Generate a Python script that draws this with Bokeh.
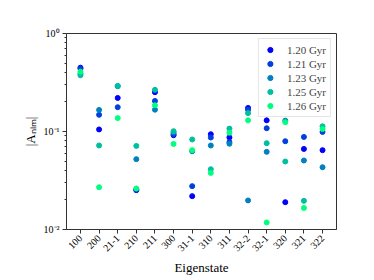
import math
from bokeh.plotting import figure
from bokeh.models import Range1d, FixedTicker, Legend, LegendItem, ColumnDataSource
from bokeh.embed import file_html
from bokeh.resources import INLINE

categories = ["100", "200", "21-1", "210", "211", "300", "31-1", "310", "311",
              "32-2", "32-1", "320", "321", "322"]
series_labels = ["1.20 Gyr", "1.21 Gyr", "1.23 Gyr", "1.25 Gyr", "1.26 Gyr"]
series_colors = ["#0000ff", "#0040df", "#0080bf", "#00bf9f", "#00ff80"]

a_120 = [0.448, 0.105, 0.220, 0.0252, 0.252, 0.0917, 0.0219, 0.0938, 0.087, 0.174, 0.130, 0.019, 0.0664, 0.0645]
a_121 = [0.437, 0.148, 0.177, 0.0255, 0.205, 0.094, 0.0277, 0.0868, 0.078, 0.167, 0.108, 0.0796, 0.088, 0.099]
a_123 = [0.389, 0.166, 0.290, 0.0522, 0.167, 0.098, 0.063, 0.072, 0.075, 0.0198, 0.062, 0.129, 0.0506, 0.0432]
a_125 = [0.375, 0.072, 0.292, 0.0713, 0.266, 0.1007, 0.0829, 0.0412, 0.107, 0.154, 0.076, 0.0494, 0.0196, 0.113]
a_126 = [0.408, 0.027, 0.137, 0.0262, 0.185, 0.0747, 0.0645, 0.0378, 0.097, 0.130, 0.0118, 0.1245, 0.0166, 0.106]
series_values = [a_120, a_121, a_123, a_125, a_126]

y_major = [0.01, 0.1, 1.0]
y_major_labels = {0.01: "10\u207b\u00b2", 0.1: "10\u207b\u00b9", 1.0: "10\u2070"}

FONT = "Liberation Serif"

p = figure(width=374, height=280, output_backend="svg", toolbar_location=None,
           y_axis_type="log",
           x_range=Range1d(-0.75, len(categories) - 0.25),
           y_range=Range1d(0.01, 1.0),
           min_border_left=66, min_border_right=38, min_border_top=33, min_border_bottom=51)

p.outline_line_color = "#333333"
p.outline_line_width = 1
p.xgrid.visible = False
p.ygrid.visible = False

xs = list(range(len(categories)))
items = []
for lab, col, vals in zip(series_labels, series_colors, series_values):
    src = ColumnDataSource(dict(x=xs, y=vals))
    r = p.scatter("x", "y", source=src, size=5, color=col, line_color=col)
    items.append(LegendItem(label=lab, renderers=[r]))

# x axis
p.xaxis.ticker = FixedTicker(ticks=xs)
p.xaxis.major_label_overrides = {i: c for i, c in enumerate(categories)}
p.xaxis.major_label_orientation = math.pi / 4
p.xaxis.axis_label = "Eigenstate"

# y axis
minor = []
for e in (-2, -1):
    for k in range(2, 10):
        minor.append(k * 10.0 ** e)
p.yaxis.ticker = FixedTicker(ticks=y_major, minor_ticks=minor)
p.yaxis.major_label_overrides = y_major_labels
p.yaxis.axis_label = "|A\u2099\u2097\u2098|"

for ax in (p.xaxis[0], p.yaxis[0]):
    ax.axis_line_color = "#333333"
    ax.major_tick_line_color = "#333333"
    ax.major_tick_in = 0
    ax.major_tick_out = 4
    ax.minor_tick_in = 0
    ax.minor_tick_out = 2
    ax.major_label_text_font = FONT
    ax.major_label_text_font_size = "10px"
    ax.major_label_text_color = "#000000"
    ax.axis_label_text_font = FONT
    ax.axis_label_text_font_size = "13px"
    ax.axis_label_text_font_style = "normal"
    ax.axis_label_text_color = "#000000"
    ax.major_label_standoff = 3
    ax.axis_label_standoff = 3
p.xaxis.minor_tick_line_color = None
p.yaxis.minor_tick_line_color = "#333333"

legend = Legend(items=items, location="top_right",
                label_text_font=FONT, label_text_font_size="11px",
                glyph_width=14, glyph_height=13, label_height=13,
                label_standoff=10, spacing=1, padding=4, margin=5,
                border_line_color="#cccccc", border_line_width=1,
                background_fill_color="white", background_fill_alpha=0.85)
p.add_layout(legend)

open("out.html", "w").write(file_html(p, INLINE))
